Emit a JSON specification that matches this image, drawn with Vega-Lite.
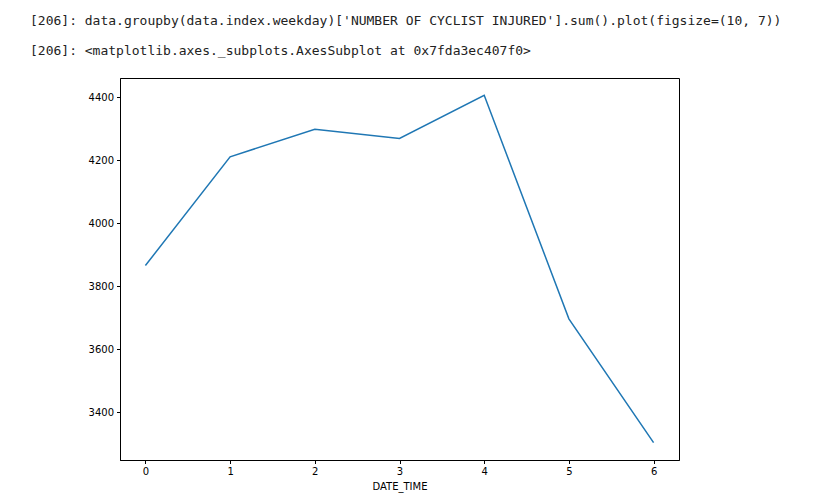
{
  "$schema": "https://vega.github.io/schema/vega-lite/v6.json",
  "width": 559,
  "height": 382,
  "autosize": {"type": "none"},
  "padding": {"left": 120, "top": 78, "right": 135, "bottom": 44},
  "background": "white",
  "title": {
    "text": "[206]: data.groupby(data.index.weekday)['NUMBER OF CYCLIST INJURED'].sum().plot(figsize=(10, 7))",
    "subtitle": "[206]: <matplotlib.axes._subplots.AxesSubplot at 0x7fda3ec407f0>",
    "anchor": "start",
    "frame": "group",
    "dx": -90,
    "offset": 20,
    "font": "DejaVu Sans Mono",
    "fontSize": 13,
    "fontWeight": "normal",
    "color": "#222",
    "subtitleFont": "DejaVu Sans Mono",
    "subtitleFontSize": 13,
    "subtitleColor": "#222",
    "subtitlePadding": 17
  },
  "data": {
    "values": [
      {"weekday": 0, "injured": 3866},
      {"weekday": 1, "injured": 4211},
      {"weekday": 2, "injured": 4298},
      {"weekday": 3, "injured": 4269},
      {"weekday": 4, "injured": 4406},
      {"weekday": 5, "injured": 3697},
      {"weekday": 6, "injured": 3304}
    ]
  },
  "mark": {"type": "line", "color": "#1f77b4", "strokeWidth": 1.5},
  "encoding": {
    "x": {
      "field": "weekday",
      "type": "quantitative",
      "title": "DATE_TIME",
      "scale": {"domain": [-0.3, 6.3], "nice": false, "zero": false},
      "axis": {"values": [0, 1, 2, 3, 4, 5, 6], "format": "d"}
    },
    "y": {
      "field": "injured",
      "type": "quantitative",
      "title": null,
      "scale": {"domain": [3249, 4461], "nice": false, "zero": false},
      "axis": {"values": [3400, 3600, 3800, 4000, 4200, 4400], "format": "d"}
    }
  },
  "config": {
    "view": {"stroke": "black", "strokeWidth": 1},
    "axis": {
      "grid": false,
      "domainColor": "black",
      "tickColor": "black",
      "tickSize": 3.5,
      "labelColor": "black",
      "labelFont": "DejaVu Sans",
      "labelFontSize": 10,
      "labelPadding": 3,
      "titleFont": "DejaVu Sans",
      "titleFontSize": 10,
      "titleFontWeight": "normal",
      "titleColor": "black",
      "titlePadding": 5
    }
  }
}
